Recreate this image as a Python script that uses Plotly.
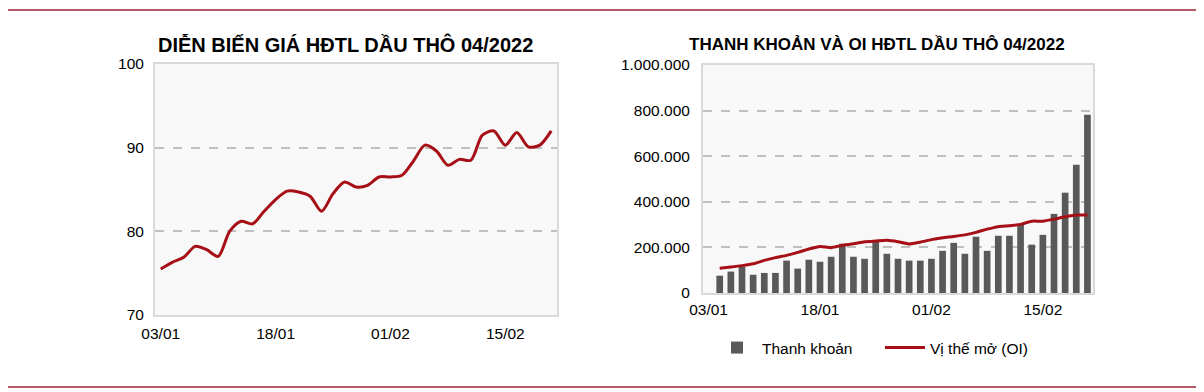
import plotly.graph_objects as go

dates = ["03/01","04/01","05/01","06/01","07/01","10/01","11/01","12/01","13/01","14/01",
         "18/01","19/01","20/01","21/01","24/01","25/01","26/01","27/01","28/01","31/01",
         "01/02","02/02","03/02","04/02","07/02","08/02","09/02","10/02","11/02","14/02",
         "15/02","16/02","17/02","18/02","22/02"]

price = [75.5, 76.3, 76.9, 78.2, 77.8, 77.0, 80.0, 81.2, 80.9, 82.4,
         83.8, 84.8, 84.7, 84.2, 82.4, 84.5, 85.9, 85.3, 85.5, 86.5,
         86.5, 86.7, 88.4, 90.3, 89.6, 87.9, 88.6, 88.5, 91.5, 92.0,
         90.3, 91.8, 90.1, 90.3, 92.0]

volume = [None, 76000, 94000, 116000, 80000, 88000, 88000, 142000, 107000, 146000,
          137000, 159000, 216000, 159000, 150000, 224000, 172000, 150000, 142000, 142000,
          150000, 185000, 220000, 172000, 247000, 185000, 251000, 251000, 303000, 212000,
          255000, 347000, 440000, 563000, 782000]

oi = [None, 109000, 114000, 120000, 128000, 143000, 155000, 165000, 178000, 193000,
      204000, 199000, 209000, 216000, 225000, 228000, 231000, 225000, 215000, 223000,
      234000, 242000, 248000, 255000, 266000, 280000, 291000, 295000, 301000, 315000,
      315000, 324000, 334000, 342000, 342000]

x_ticks = ["03/01", "18/01", "01/02", "15/02"]

RED = "#A50F15"
GRAY_BAR = "#595959"
FONT = "Arial, Liberation Sans, sans-serif"

# The page body has an 8px default margin; the figure is sized to fill the
# rest of the 1204x392 window, and page positions are converted accordingly.
OFF = 8
W, H = 1204 - OFF, 392 - OFF


def fx(p):
    return (p - OFF) / W


def fy(p):
    return (H - (p - OFF)) / H


fig = go.Figure()

fig.add_trace(go.Scatter(x=dates, y=price, mode="lines", xaxis="x", yaxis="y",
                         line=dict(color=RED, width=3, shape="spline", smoothing=0.8),
                         showlegend=False))

fig.add_trace(go.Bar(x=dates, y=volume, xaxis="x2", yaxis="y2", name="Thanh khoản",
                     marker=dict(color=GRAY_BAR, line=dict(width=0)), width=0.6))
fig.add_trace(go.Scatter(x=dates, y=oi, mode="lines", xaxis="x2", yaxis="y2",
                         name="Vị thế mở (OI)",
                         line=dict(color=RED, width=3, shape="spline", smoothing=0.5)))

axis_common = dict(showline=True, mirror=True, linecolor="#D9D9D9", linewidth=2,
                   ticks="", automargin=False,
                   tickfont=dict(family=FONT, size=15.5, color="#000000"))

fig.update_layout(
    template="none",
    width=W, height=H,
    margin=dict(l=0, r=0, t=0, b=0, autoexpand=False),
    paper_bgcolor="white",
    plot_bgcolor="#F8F8F8",
    separators=",.",
    font=dict(family=FONT, size=15.5, color="#000000"),
    xaxis=dict(domain=[fx(155), fx(557)], anchor="y", type="category",
               range=[-0.5, len(dates) - 0.5], tickvals=x_ticks, showgrid=False,
               ticklabelstandoff=3, **axis_common),
    yaxis=dict(domain=[fy(315), fy(64)], anchor="x", range=[70, 100], dtick=10,
               showgrid=True, gridcolor="#BFBFBF", griddash="dash", gridwidth=1.5,
               zeroline=False, ticklabelstandoff=6, **axis_common),
    xaxis2=dict(domain=[fx(703), fx(1093)], anchor="y2", type="category",
                range=[-0.5, len(dates) - 0.5], tickvals=x_ticks, showgrid=False,
                ticklabelstandoff=1, **axis_common),
    yaxis2=dict(domain=[fy(293), fy(65)], anchor="x2", range=[0, 1000000], dtick=200000,
                tickformat=",d", showgrid=True, gridcolor="#BFBFBF", griddash="dash",
                gridwidth=1.5, zeroline=False, ticklabelstandoff=8, **axis_common),
    legend=dict(orientation="h", x=fx(712), y=fy(348), xanchor="left",
                yanchor="middle", font=dict(family=FONT, size=15.5),
                bgcolor="rgba(0,0,0,0)", itemwidth=40, entrywidth=113,
                tracegroupgap=0),
    shapes=[
        dict(type="line", xref="paper", yref="paper", x0=fx(8), x1=1.0,
             y0=fy(10), y1=fy(10), line=dict(color="#9B2335", width=1.5)),
        dict(type="line", xref="paper", yref="paper", x0=fx(8), x1=fx(1200),
             y0=fy(387), y1=fy(387), line=dict(color="#9B2335", width=1.5)),
    ],
    annotations=[
        dict(text="<b>DIỄN BIẾN GIÁ HĐTL DẦU THÔ 04/2022</b>", xref="paper", yref="paper",
             x=fx(345), y=fy(44), xanchor="center", yanchor="middle",
             showarrow=False, font=dict(family=FONT, size=20, color="#000000")),
        dict(text="<b>THANH KHOẢN VÀ OI HĐTL DẦU THÔ 04/2022</b>", xref="paper", yref="paper",
             x=fx(877), y=fy(44), xanchor="center", yanchor="middle",
             showarrow=False, font=dict(family=FONT, size=17, color="#000000")),
    ],
)

fig.write_html("out.html")
